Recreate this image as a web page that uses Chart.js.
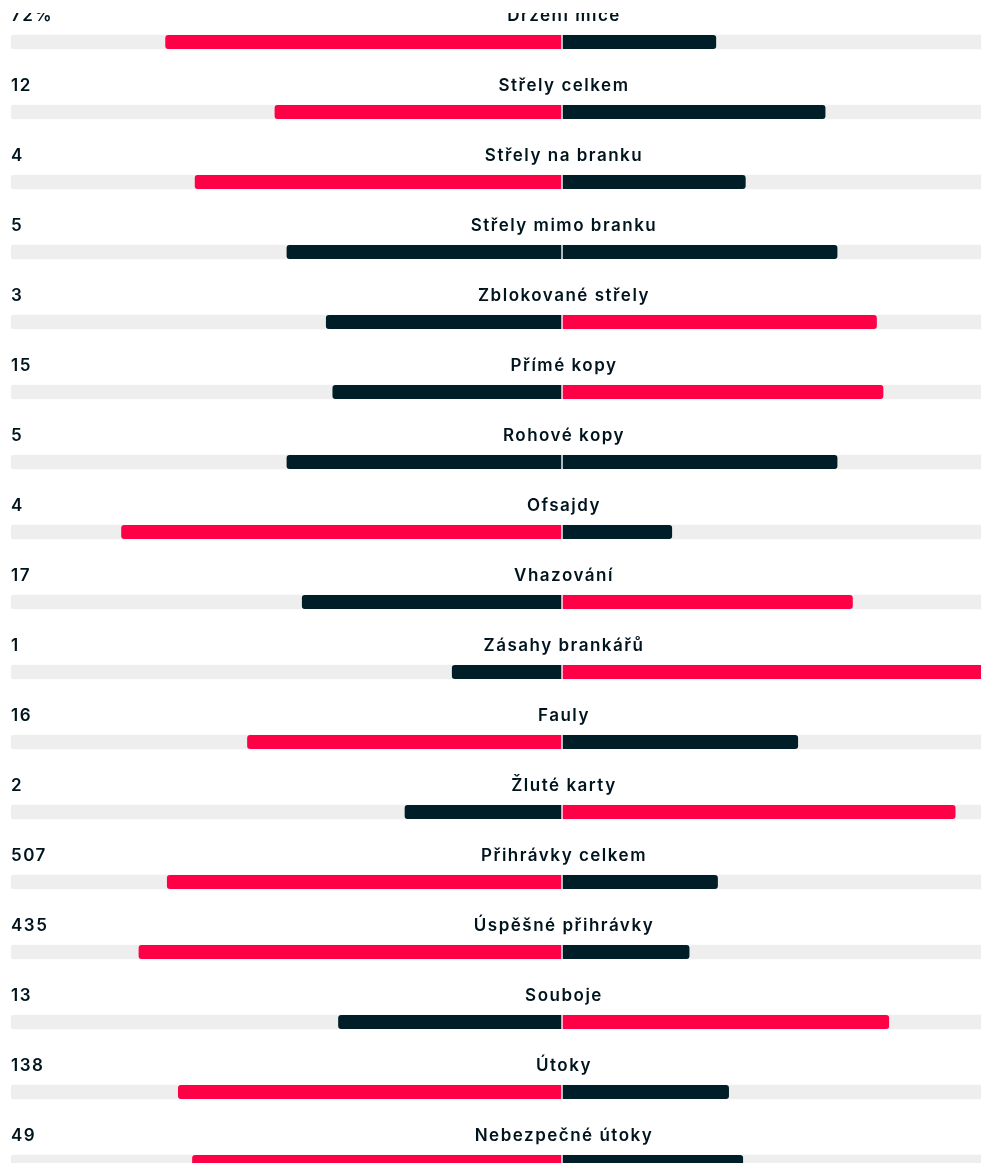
<!DOCTYPE html>
<html lang="cs">
<head>
<meta charset="UTF-8">
<title>Statistiky zápasu</title>
<script src="https://cdn.jsdelivr.net/npm/chart.js@4.4.1/dist/chart.umd.min.js"></script>
<style>
  html, body { margin: 0; padding: 0; background: #fff; overflow: hidden; }
  .wrap { position: relative; width: 981px; height: 1200px; }
  .mask { position: absolute; left: 0; top: 0; width: 981px; height: 13px; background: #fff; }
</style>
</head>
<body>
<div class="wrap">
  <canvas id="statsChart"></canvas>
  <div class="mask"></div>
</div>
<script>
// ========== DATA ==========
const categories = [
  "Držení míče", "Střely celkem", "Střely na branku", "Střely mimo branku",
  "Zblokované střely", "Přímé kopy", "Rohové kopy", "Ofsajdy", "Vhazování",
  "Zásahy brankářů", "Fauly", "Žluté karty", "Přihrávky celkem",
  "Úspěšné přihrávky", "Souboje", "Útoky", "Nebezpečné útoky"
];
const homeValues = [72, 12, 4, 5, 3, 15, 5, 4, 17, 1, 16, 2, 507, 435, 13, 138, 49];
const awayValues = [28, 11, 2, 5, 4, 21, 5, 1, 19, 4, 12, 5, 200, 131, 19, 60, 24];
const valueUnits = ["%", "", "", "", "", "", "", "", "", "", "", "", "", "", "", "", ""];

// ======== COLORS ========
const RED = "#ff0046";
const DARK = "#001e28";
const TRACK = "#eeeeee";
const TEXT = "#00141e";

// share of each side (left side negative)
const homeShare = homeValues.map((h, i) => h / (h + awayValues[i]));
const awayShare = awayValues.map((a, i) => a / (homeValues[i] + a));

const homeColors = homeValues.map((h, i) => (h > awayValues[i] ? RED : DARK));
const awayColors = awayValues.map((a, i) => (a > homeValues[i] ? RED : DARK));

// ======== TEXT PLUGIN ========
const rowText = {
  id: "rowText",
  afterDatasetsDraw(chart) {
    const { ctx, chartArea, scales } = chart;
    ctx.save();
    ctx.fillStyle = TEXT;
    ctx.font = "600 17px Inter, sans-serif";
    ctx.letterSpacing = "1.5px";
    ctx.textBaseline = "alphabetic";
    categories.forEach((cat, i) => {
      const y = scales.y.getPixelForValue(i) - 21;
      ctx.textAlign = "center";
      ctx.fillText(cat, scales.x.getPixelForValue(0) + 2, y);
      ctx.textAlign = "left";
      ctx.fillText(homeValues[i] + valueUnits[i], chartArea.left, y);
    });
    ctx.restore();
  },
};

// ======== CHART ========
new Chart(document.getElementById("statsChart"), {
  type: "bar",
  data: {
    labels: categories,
    datasets: [
      {
        label: "Domácí",
        data: homeShare.map((s) => [-s, 0]),
        backgroundColor: homeColors,
        borderColor: "#ffffff",
        borderWidth: { right: 1, left: 0, top: 0, bottom: 0 },
        borderSkipped: false,
        borderRadius: { topLeft: 3, bottomLeft: 3, topRight: 0, bottomRight: 0 },
        barThickness: 14,
        grouped: false,
        order: 0,
      },
      {
        label: "Hosté",
        data: awayShare.map((s) => [0, s]),
        backgroundColor: awayColors,
        borderColor: "#ffffff",
        borderWidth: { left: 1, right: 0, top: 0, bottom: 0 },
        borderSkipped: false,
        borderRadius: { topRight: 3, bottomRight: 3, topLeft: 0, bottomLeft: 0 },
        barThickness: 14,
        grouped: false,
        order: 0,
      },
      {
        label: "track",
        data: categories.map(() => [-1, 1]),
        backgroundColor: TRACK,
        borderSkipped: false,
        borderRadius: 3,
        barThickness: 14,
        grouped: false,
        order: 1,
      },
    ],
  },
  options: {
    indexAxis: "y",
    responsive: true,
    maintainAspectRatio: false,
    animation: false,
    layout: { padding: { left: 11, right: 0, top: 7, bottom: 3 } },
    plugins: { legend: { display: false }, tooltip: { enabled: false } },
    scales: {
      x: { display: false, min: -1, max: 970 / 551 - 1 },
      y: { display: false },
    },
  },
  plugins: [rowText],
});
</script>
</body>
</html>
